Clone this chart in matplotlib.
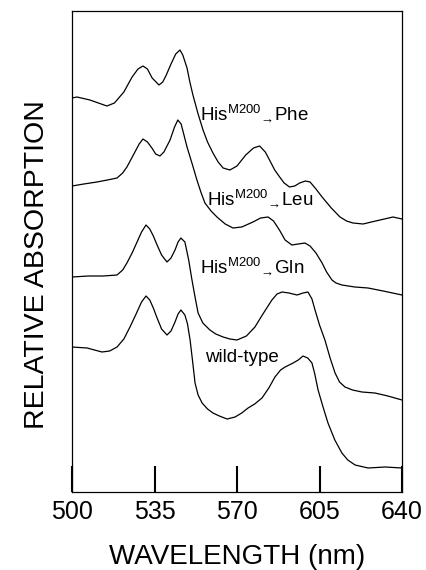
import matplotlib
matplotlib.use("Agg")
import matplotlib.pyplot as plt

plt.rcParams["font.family"] = ["Liberation Sans", "DejaVu Sans"]
plt.rcParams["mathtext.fontset"] = "custom"
plt.rcParams["mathtext.rm"] = "Liberation Sans"
plt.rcParams["mathtext.it"] = "Liberation Sans"

# spectra (wavelength in nm, relative absorption in arbitrary units)
phe_wl = [500.0, 502.1, 507.6, 514.8, 518.0, 522.0, 525.5, 528.0, 530.1, 532.0,
          534.0, 536.9, 538.5, 540.0, 542.0, 544.0, 545.8, 547.0, 548.8, 550.0,
          551.3, 553.5, 555.6, 557.5, 559.8, 562.0, 564.1, 567.0, 570.0, 573.7,
          577.0, 579.6, 582.0, 583.8, 586.0, 588.1, 590.0, 592.3, 594.5, 596.6,
          599.0, 601.0, 603.5, 606.1, 610.0, 613.7, 616.5, 619.2, 623.5, 627.0,
          630.7, 636.2, 640.0]
phe_abs = [394, 395, 392, 386, 389, 400, 415, 423, 426, 423,
           414, 407, 410, 417, 428, 438, 442, 437, 424, 410,
           397, 378, 362, 350, 339, 330, 324, 322, 326, 337,
           344, 346, 340, 332, 322, 315, 309, 305, 306, 309,
           311, 310, 303, 295, 284, 275, 271, 269, 268, 270,
           272, 275, 273]

leu_wl = [500.0, 505.0, 510.6, 515.0, 519.1, 521.5, 523.3, 526.7, 528.5, 530.1,
          532.0, 533.9, 535.5, 537.3, 539.0, 541.6, 543.5, 544.9, 546.3, 547.5,
          548.8, 551.0, 553.0, 554.8, 556.4, 559.0, 561.5, 565.0, 568.3, 572.0,
          576.8, 580.0, 583.2, 585.5, 588.0, 590.4, 593.3, 596.0, 598.8, 601.0,
          603.5, 606.1, 608.0, 610.3, 612.0, 614.5, 620.0, 625.6, 632.0, 640.0]
leu_abs = [306, 308, 310, 312, 314, 319, 325, 340, 348, 353,
           350, 344, 338, 336, 340, 352, 365, 372, 368, 357,
           345, 328, 312, 299, 289, 281, 275, 268, 264, 265,
           270, 274, 275, 271, 262, 252, 247, 248, 249, 246,
           239, 229, 220, 212, 209, 207, 205, 204, 201, 197]

gln_wl = [500.0, 507.0, 513.2, 519.1, 521.5, 523.3, 525.5, 527.6, 529.5, 531.4,
          533.0, 534.5, 536.1, 538.0, 540.3, 542.0, 543.7, 545.0, 546.2, 547.9,
          549.5, 550.9, 552.2, 553.5, 555.5, 558.5, 561.0, 564.1, 567.0, 570.0,
          574.0, 577.6, 581.0, 584.8, 587.0, 589.1, 592.0, 595.5, 598.0, 600.1,
          601.8, 603.1, 605.0, 607.3, 609.5, 611.6, 613.5, 615.8, 619.0, 623.0,
          628.5, 634.0, 640.0]
gln_abs = [215, 216, 216, 217, 222, 229, 239, 250, 260, 267,
           263, 256, 247, 237, 230, 234, 242, 250, 254, 250,
           232, 212, 195, 179, 169, 162, 158, 155, 153, 152,
           156, 165, 178, 192, 198, 200, 199, 197, 199, 200,
           193, 182, 167, 152, 134, 119, 110, 105, 102, 100,
           99, 96, 92]

wt_wl = [500.0, 506.4, 512.7, 516.0, 519.1, 522.0, 524.6, 527.0, 529.5, 531.4,
         533.0, 534.5, 536.1, 538.0, 540.3, 542.0, 543.7, 545.0, 546.2, 547.9,
         549.0, 550.1, 551.2, 552.2, 553.5, 555.2, 557.5, 559.8, 562.5, 565.8,
         569.2, 572.0, 574.7, 577.5, 580.6, 583.5, 586.1, 588.5, 590.4, 593.8,
         596.0, 598.0, 600.0, 601.8, 603.0, 604.4, 606.5, 608.6, 611.5, 614.5,
         617.0, 620.1, 625.6, 632.8, 640.0]
wt_abs = [145, 144, 140, 141, 145, 153, 165, 177, 190, 196,
          192, 184, 174, 163, 157, 161, 170, 178, 182, 177,
          168, 152, 130, 109, 97, 89, 83, 79, 76, 73,
          75, 79, 84, 88, 94, 104, 115, 122, 125, 129,
          132, 136, 134, 129, 118, 102, 85, 69, 52, 39,
          32, 27, 24, 25, 24]

xticks = [500, 535, 570, 605, 640]

fig = plt.figure(figsize=(4.27, 5.70), dpi=100)
ax = fig.add_axes([72 / 427, 1 - 492 / 570, 330 / 427, 481 / 570])

for wl, ab in [(phe_wl, phe_abs), (leu_wl, leu_abs), (gln_wl, gln_abs), (wt_wl, wt_abs)]:
    ax.plot(wl, ab, color="black", lw=0.9)

lab = "His$^{\\mathrm{M200}}$$_{\\mathrm{\u2192}}$"
ax.text(554.3, 372, lab + "Phe", fontsize=13.5, va="baseline")
ax.text(557.3, 287, lab + "Leu", fontsize=13.5, va="baseline")
ax.text(554.3, 219, lab + "Gln", fontsize=13.5, va="baseline")
ax.text(556.4, 130, "wild-type", fontsize=13.5, va="baseline")

ax.set_xlim(500, 640)
ax.set_ylim(0, 481)
ax.set_xticks(xticks)
ax.set_xticklabels([str(t) for t in xticks], fontsize=18)
ax.set_yticks([])
ax.tick_params(axis="x", direction="in", length=19, width=1.5, pad=6)
for s in ax.spines.values():
    s.set_linewidth(0.9)

ax.set_xlabel("WAVELENGTH (nm)", fontsize=20, labelpad=14)
ax.set_ylabel("RELATIVE ABSORPTION", fontsize=20.5)
ax.yaxis.set_label_coords(-0.068, 0.472)

fig.savefig("out.png", dpi=100)
